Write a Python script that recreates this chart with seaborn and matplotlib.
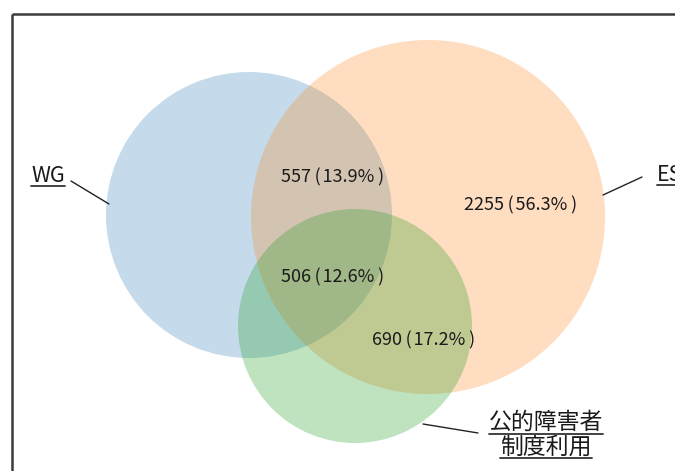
import matplotlib
matplotlib.use("Agg")
import matplotlib.pyplot as plt
from matplotlib.patches import Circle
import seaborn as sns

# ---- data ----
set_names = ["WG", "ES", "公的障害者\n制度利用"]
region_names = ["WG∩ES", "ES only", "WG∩ES∩公的", "ES∩公的"]
region_counts = [557, 2255, 506, 690]
region_pcts = [13.9, 56.3, 12.6, 17.2]

# ---- layout (pixel coordinates of the 675x471 canvas) ----
circle_centers = [(249, 215), (428, 217), (355, 326)]
circle_radii = [143, 177, 117]
circle_alpha = [0.26, 0.26, 0.30]
region_pos = [(333, 177), (521, 205), (333, 277), (424, 340)]
name_pos = [(48, 176), (657, 175), (546, 435)]
name_ha = ["center", "left", "center"]
name_size = [15.5, 15.5, 16.5]
leaders = [((71, 181), (109, 204)), ((603, 195), (642, 177)), ((423, 424), (478, 433))]

sns.set_theme(style="white")
plt.rcParams['font.family'] = ['Noto Sans CJK JP', 'DejaVu Sans']
palette = sns.color_palette("tab10")
colors = [palette[0], palette[1], palette[2]]

fig = plt.figure(figsize=(6.75, 4.71), dpi=100)
ax = fig.add_axes([0, 0, 1, 1])
ax.set_xlim(0, 675)
ax.set_ylim(471, 0)
ax.axis("off")

for (c, r, col, a) in zip(circle_centers, circle_radii, colors, circle_alpha):
    ax.add_patch(Circle(c, r, facecolor=col, alpha=a, edgecolor="none", zorder=1))

for (x, y), n, p in zip(region_pos, region_counts, region_pcts):
    ax.text(x, y, f"{n}\u2009(\u200a{p:.1f}%\u2009)", ha="center", va="center", fontsize=13,
            color="#1a1a1a", zorder=3)

name_texts = []
for (x, y), name, ha, fs in zip(name_pos, set_names, name_ha, name_size):
    t = ax.text(x, y, name, ha=ha, va="center", fontsize=fs,
                color="#1a1a1a", linespacing=1.1, zorder=3)
    name_texts.append(t)

for (p0, p1) in leaders:
    ax.plot([p0[0], p1[0]], [p0[1], p1[1]], color="#222222", lw=1.0, zorder=2)

# frame (left and top edges visible)
ax.plot([11.5, 11.5], [13.5, 471], color="#3a3a3a", lw=1.8, solid_capstyle="butt", zorder=4)
ax.plot([11.5, 675], [13.5, 13.5], color="#3a3a3a", lw=1.8, solid_capstyle="butt", zorder=4)

# underlines under set names
fig.canvas.draw()
renderer = fig.canvas.get_renderer()
inv = ax.transData.inverted()
for t in name_texts:
    bb = t.get_window_extent(renderer)
    lines = t.get_text().split("\n")
    nl = len(lines)
    lh = bb.height / nl
    for i, line in enumerate(lines):
        tmp = ax.text(0, 0, line, fontsize=t.get_fontsize(), alpha=0)
        w = tmp.get_window_extent(renderer).width
        tmp.remove()
        cx = (bb.x0 + bb.x1) / 2
        if t.get_ha() == "left":
            x0, x1 = bb.x0, bb.x0 + w
        else:
            x0, x1 = cx - w / 2, cx + w / 2
        ybot = bb.y1 - (i + 1) * lh + 1
        (dx0, dy), (dx1, _) = inv.transform([(x0, ybot), (x1, ybot)])
        ax.plot([dx0, dx1], [dy, dy], color="#333333", lw=1.3, zorder=3)

fig.savefig("out.png", dpi=100)
